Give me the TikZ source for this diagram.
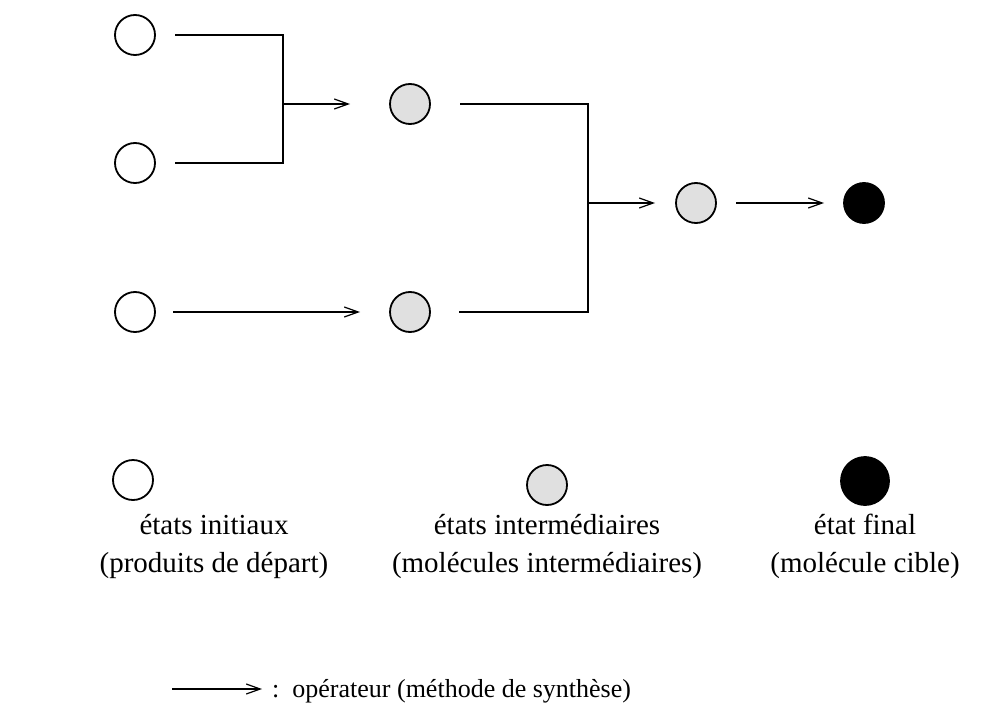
\documentclass[tikz,border=0pt]{standalone}
\usepackage{fontspec}
\setmainfont{Liberation Serif}
\usetikzlibrary{arrows.meta}
\begin{document}
\begin{tikzpicture}[x=1pt,y=-1pt,
  st/.style={circle,draw,line width=1.8pt,minimum size=40pt,inner sep=0pt,outer sep=0pt},
  inistate/.style={st},
  midstate/.style={st,fill=black!12},
  finstate/.style={st,fill=black},
  conn/.style={line width=1.2pt},
  arr/.style={line width=1.2pt,-{Straight Barb[length=14pt,width=10pt,line width=1.2pt]}},
  lbl/.style={align=center,font=\fontsize{29}{38}\selectfont,inner sep=0pt,anchor=base}]
\useasboundingbox (0,0) rectangle (990,714);
% states
\node[inistate] (i1) at (135,35) {};
\node[inistate] (i2) at (135,163) {};
\node[inistate] (i3) at (135,312) {};
\node[midstate] (m1) at (410,104) {};
\node[midstate] (m2) at (410,312) {};
\node[midstate] (m3) at (696,203) {};
\node[finstate] (f) at (864,203) {};
\coordinate (j1) at (283,104);
\coordinate (j2) at (588,203);
% connectors
\draw[conn] ([xshift=20pt]i1.east) -| (j1);
\draw[conn] ([xshift=20pt]i2.east) -| (j1);
\draw[arr] (j1) -- ([xshift=-40pt]m1.west);
\draw[arr] ([xshift=18pt]i3.east) -- ([xshift=-30pt]m2.west);
\draw[conn] ([xshift=30pt]m1.east) -| (j2);
\draw[conn] ([xshift=29pt]m2.east) -| (j2);
\draw[arr] (j2) -- ([xshift=-21pt]m3.west);
\draw[arr] ([xshift=20pt]m3.east) -- ([xshift=-20pt]f.west);
% legend
\node[inistate] (l1) at (133,480) {};
\node[midstate] (l2) at (547,485) {};
\node[finstate,minimum size=48pt] (l3) at (865,481) {};
\node[lbl] (t1) at (214,572) {états initiaux\\(produits de départ)};
\node[lbl] (t2) at (547,572) {états intermédiaires\\(molécules intermédiaires)};
\node[lbl] (t3) at (865,572) {état final\\(molécule cible)};
\coordinate (oa) at (172,689);
\coordinate (ob) at (262,689);
\draw[arr] (oa) -- (ob);
\node[lbl,font=\fontsize{26}{30}\selectfont,anchor=base west] (op) at (272,697) {:\hspace{0.5em}opérateur (méthode de synthèse)};
\end{tikzpicture}
\end{document}
